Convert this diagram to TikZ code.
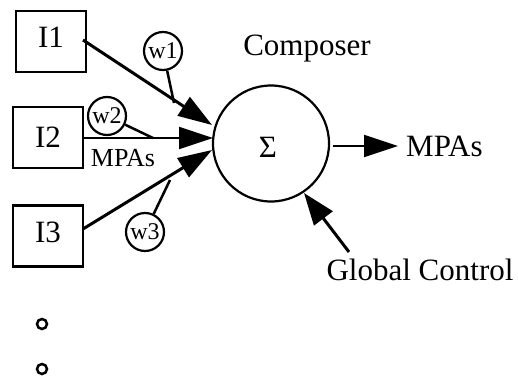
\documentclass[tikz,border=0pt]{standalone}
\usepackage{fontspec}
\setmainfont{Liberation Serif}
\usetikzlibrary{arrows.meta,shapes.geometric}
\begin{document}
\begin{tikzpicture}[x=1pt,y=-1pt,
  inbox/.style={draw, line width=2.2pt, minimum width=70pt, minimum height=61pt, inner sep=0pt, font=\fontsize{31}{36}\selectfont},
  wcirc/.style={draw, circle, line width=2.2pt, minimum size=38pt, inner sep=0pt, font=\fontsize{24}{28}\selectfont},
  big/.style={inner sep=0pt, font=\fontsize{31}{36}\selectfont},
  head/.style={-{Triangle[length=34pt,width=22pt]}},
  thickarr/.style={head, line width=3pt},
  thinarr/.style={head, line width=2pt},
  wline/.style={line width=2.5pt},
  dotc/.style={draw, circle, line width=2.5pt, minimum size=10pt, inner sep=0pt}
]
\useasboundingbox (0,0) rectangle (518,377);
% input boxes
\node[inbox, text depth=9pt] (I1) at (51,41.5) {I1};
\node[inbox] (I2) at (48,137.5) {I2};
\node[inbox, text depth=7pt] (I3) at (48,236) {I3};
% sum
\node[draw, circle, line width=2.2pt, minimum size=116pt, inner sep=0pt] (sum) at (271,143.5) {};
\node[big] (sigma) at (268,147) {Σ};
\node[big] (comp) at (307,49) {Composer};
% coordinates
\coordinate (t1) at (212,125);
\coordinate (t2) at (213,138);
\coordinate (t3) at (212,150);
\coordinate (s1) at (83,40);
\coordinate (s2) at (83,138);
\coordinate (s3) at (83,229);
\draw[thickarr] (s1) -- (t1);
\draw[thinarr] (s2) -- (t2);
\draw[thickarr] (s3) -- (t3);
% weights
\node[wcirc] (w1) at (163,51) {w1};
\node[wcirc] (w2) at (107,116) {w2};
\node[wcirc] (w3) at (145,232) {w3};
\coordinate (p1) at (174,103);
\coordinate (p2) at (153,138);
\coordinate (p3) at (170,180);
\draw[wline] (w1) -- (p1);
\draw[wline] (w2) -- (p2);
\draw[wline] (w3) -- (p3);
\node[inner sep=0pt, font=\fontsize{26}{30}\selectfont] (mpa1) at (123,158) {MPAs};
% output
\coordinate (o1) at (333,146);
\node[big, anchor=west] (mpa2) at (406,146) {MPAs};
\coordinate (o2) at (398,146);
\draw[thinarr] (o1) -- (o2);
% global control
\node[big] (gc) at (420,270) {Global Control};
\coordinate (g1) at (349,252);
\coordinate (g2) at (304,193);
\draw[thickarr, -{Triangle[length=32pt,width=23pt]}] (g1) -- (g2);
% dots
\node[dotc] (d1) at (42,324) {};
\node[dotc] (d2) at (42,369) {};
\end{tikzpicture}
\end{document}
